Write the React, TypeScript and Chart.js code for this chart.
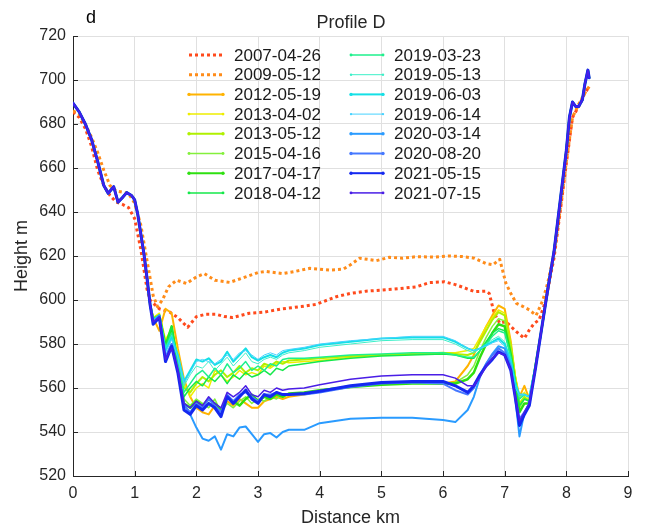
import React, { useEffect, useRef } from "react";
import { Chart, registerables } from "chart.js";

Chart.register(...registerables);

const FONT = '"Liberation Sans", Arial, Helvetica, sans-serif';
const INK = "#262626";
const GRID = "#e0e0e0";

// ---------- labels & ticks ----------
const TITLE = "Profile D";
const PANEL = "d";
const X_TITLE = "Distance km";
const Y_TITLE = "Height m";
const X_TICKS = [0, 1, 2, 3, 4, 5, 6, 7, 8, 9];
const Y_TICKS = [520, 540, 560, 580, 600, 620, 640, 660, 680, 700, 720];

const SERIES_NAMES = [
  "2007-04-26", "2009-05-12", "2012-05-19", "2013-04-02",
  "2013-05-12", "2015-04-16", "2017-04-17", "2018-04-12",
  "2019-03-23", "2019-05-13", "2019-06-03", "2019-06-14",
  "2020-03-14", "2020-08-20", "2021-05-15", "2021-07-15",
];
const SERIES_COLORS = [
  "#FF4A1C", "#FF8C1A", "#FFB300", "#EEEE00",
  "#B0F000", "#84F03C", "#2EE010", "#14E84A",
  "#1EF08C", "#3CF0C8", "#14E0E6", "#46D2FF",
  "#2A9BFF", "#4678FF", "#1428F0", "#4A1EE6",
];
const SERIES_WIDTHS = [3, 3, 2, 1.5, 2, 1.5, 2.5, 1.5, 1.5, 1, 2, 1, 2, 2, 3, 1.5];
const SERIES_DOTTED = [true, true, false, false, false, false, false, false, false, false, false, false, false, false, false, false];

// ---------- dotted profiles (own x) ----------
const X_2007 = [0, 0.1, 0.2, 0.3, 0.4, 0.5, 0.6, 0.7, 0.8, 0.9, 1.0, 1.1, 1.2, 1.25, 1.3, 1.4, 1.57, 1.7, 1.86, 2.0, 2.15, 2.32, 2.45, 2.59, 2.86, 3.1, 3.4, 3.7, 3.94, 4.27, 4.5, 4.75, 5.0, 5.3, 5.57, 5.78, 6.02, 6.2, 6.35, 6.51, 6.7, 6.75, 6.83, 6.92, 7.02, 7.1, 7.19, 7.32, 7.4, 7.48, 7.56, 7.67, 7.75, 7.8, 7.9, 8.0, 8.1, 8.2, 8.3, 8.37];
const Y_2007 = [685.5, 683, 678, 670, 659, 652, 647.5, 644.5, 643.5, 642, 637, 623, 605, 600, 598.5, 596, 594.5, 592, 587.6, 592.4, 593.5, 593.5, 592.5, 592, 594, 594.5, 596, 597, 598, 601.5, 603, 604, 604.5, 605.2, 606, 607.9, 608.3, 607, 605.5, 603.8, 604, 603, 594, 589.5, 590.2, 588, 585.6, 582.6, 586.4, 589.4, 591, 600, 612, 619, 640, 662, 683, 688, 694, 697];

const X_2009 = [0, 0.1, 0.2, 0.3, 0.4, 0.5, 0.6, 0.7, 0.8, 0.9, 1.0, 1.1, 1.2, 1.3, 1.37, 1.45, 1.55, 1.68, 1.84, 2.0, 2.13, 2.3, 2.54, 2.8, 3.0, 3.13, 3.4, 3.6, 3.84, 4.16, 4.38, 4.5, 4.65, 4.92, 5.13, 5.35, 5.57, 5.85, 6.1, 6.3, 6.51, 6.7, 6.81, 6.92, 7.02, 7.1, 7.19, 7.3, 7.4, 7.51, 7.62, 7.7, 7.8, 7.9, 8.0, 8.1, 8.2, 8.3, 8.37];
const Y_2009 = [686, 684.5, 680, 674, 667, 659, 652, 649.5, 649, 648.5, 644, 634, 618, 602, 597, 600, 606, 609, 607.5, 610.5, 612, 609, 608, 610.5, 612.5, 613, 612, 613, 614.4, 613.6, 614, 616, 619, 617.9, 619.4, 619, 619.7, 619.5, 620, 619.8, 619, 616.5, 616, 618.5, 607.6, 603, 598.5, 597, 595.5, 593, 600, 608, 621, 641, 663, 683, 689, 694, 697];

// ---------- shared banks for solid profiles ----------
const LEFT_BANK_X = [0, 0.1, 0.2, 0.3, 0.4, 0.5, 0.57, 0.66, 0.73, 0.8, 0.87, 0.95, 1.0, 1.05, 1.1, 1.15, 1.2, 1.25];
const LEFT_BANK_Y = [689.5, 685.5, 680, 673, 663, 652, 648.5, 651.5, 644.5, 646.5, 648.8, 647.5, 645.5, 639, 630, 621, 610, 598];
const RIGHT_BANK_X = [7.6, 7.7, 7.8, 7.9, 8.0, 8.05, 8.1, 8.15, 8.2, 8.26, 8.3, 8.35, 8.37];
const RIGHT_BANK_Y = [587, 605, 622, 645, 668, 683, 690, 688, 688, 691, 698, 704.5, 701];

// ---------- valley floor, solid profiles ----------
const FLOOR_X = [1.3, 1.4, 1.5, 1.6, 1.7, 1.8, 1.9, 2.0, 2.1, 2.2, 2.3, 2.4, 2.5, 2.6, 2.7, 2.8, 2.9, 3.0, 3.1, 3.2, 3.3, 3.4, 3.5, 3.75, 4.0, 4.5, 5.0, 5.5, 6.0, 6.2, 6.4, 6.5, 6.6, 6.7, 6.8, 6.9, 7.0, 7.1, 7.17, 7.24, 7.32, 7.4, 7.5];
const Y_2012_05_19 = [592, 586, 596, 594, 578, 564, 556, 551, 549, 548, 552, 550, 554, 552, 555, 553, 551, 551, 554, 555, 556, 555, 556, 557, 558.5, 560.5, 562, 562.5, 562, 563, 570, 575, 582, 588, 593, 597.5, 596, 581, 565, 556, 561, 555, 570];
const Y_2013_04_02 = [592, 594, 582, 587, 576, 562, 556, 560, 562, 560, 568, 566, 563, 565, 568, 566, 567, 566, 570, 569, 571, 572, 571.5, 572, 572.5, 574, 575, 575.5, 576, 576, 577, 578, 583, 588, 592, 595.5, 594, 580, 566, 555, 558, 555, 570];
const Y_2013_05_12 = [592, 593, 580, 586, 574, 560, 558, 562, 565, 563, 566, 568, 565, 567, 570, 567, 569, 568, 571, 570, 572, 571, 572.5, 573, 573.5, 574.5, 575, 575.5, 576, 575.5, 575, 576, 581, 586, 591, 594.5, 593, 579, 565, 553, 556, 554, 570];
const Y_2015_04_16 = [591, 592, 580, 587, 571, 555, 552, 555, 553, 551, 555, 549, 553, 551, 554, 556, 553, 555, 554, 556, 555, 557, 557, 558, 559, 561, 562, 562.5, 562, 562.5, 566, 570, 577, 583, 588, 591.5, 590.5, 577, 563, 551, 555, 554, 570];
const Y_2017_04_17 = [591, 593, 579, 588, 570, 553, 551, 554, 552, 555, 553, 550, 556, 554, 552, 555, 557, 554, 556, 555, 557, 556, 557.5, 558, 559, 560.5, 561.5, 562, 562, 562, 564, 567, 574, 580, 585, 589, 588, 575, 562, 549, 553, 553, 570];
const Y_2018_04_12 = [591, 593, 579, 588, 572, 556, 560, 563, 561, 565, 563, 566, 562, 566, 564, 567, 565, 566, 568, 566, 569, 568, 570, 571, 572, 573.5, 574.5, 575, 575.5, 575, 573.5, 573.5, 577, 581, 585, 587, 586, 575, 563, 552, 555, 554, 570];
const Y_2019_03_23 = [591, 593, 578, 585, 573, 558, 562, 566, 568, 565, 569, 566, 571, 567, 569, 572, 568, 570, 568, 571, 570, 573, 573.5, 573.5, 574, 575, 575.5, 576, 576, 575, 574, 574, 577, 580, 583.5, 586, 585, 574, 563, 555, 557, 556, 570];
const Y_2019_05_13 = [591, 593, 578, 584, 574, 561, 566, 570, 569, 572, 568, 571, 574, 570, 573, 576, 572, 571, 573, 574, 573, 575, 576, 577, 578.5, 580, 581.5, 582, 582, 580, 577, 576, 578, 580, 582, 583.5, 581, 573, 562, 556, 557, 556, 570];
const Y_2019_06_03 = [591, 593, 577, 583, 575, 563, 568, 573, 572, 573.5, 570.5, 572, 576.5, 572, 575, 578, 574, 572.5, 574, 575, 574, 576, 577, 578, 579.5, 581, 582.5, 583, 583, 581, 578, 577, 578, 579.5, 581, 582.5, 580, 572, 562, 557, 557, 556, 570];
const Y_2019_06_14 = [590, 592, 576, 582, 574, 562, 567, 572, 573, 572, 571, 573, 575, 573, 576, 577, 575, 573, 575, 576, 575, 577, 577.5, 578.5, 580, 581.5, 582.5, 583.5, 583.5, 581.5, 578, 577, 578, 579, 580.5, 581.5, 579, 571, 560, 557, 557, 556, 570];
const Y_2020_03_14 = [590, 592, 574, 580, 568, 553, 548, 542, 537, 536, 538, 532, 539, 538, 542, 542.5, 539, 535.5, 539, 539.5, 537.5, 540, 541, 541, 544, 546, 546.5, 546.5, 545.5, 544.5, 550, 556, 565, 571, 575.5, 579, 578, 570, 556, 538, 549, 553, 569];
const Y_2020_08_20 = [590, 593, 574, 580, 569, 552, 549, 553, 551, 555, 552, 549, 557, 554, 557, 558, 556, 554, 557, 557, 558, 557, 557, 557, 558, 560.5, 562, 562.5, 562, 559, 557, 560, 566, 571, 575, 578, 576, 569, 557, 546, 549, 553, 569];
const Y_2021_05_15 = [589, 592, 572, 579, 567, 550, 548, 552, 550, 553, 551, 547, 556, 553, 556, 559, 555, 553, 557, 556, 558, 557, 557, 557.5, 558.5, 561, 562.5, 563, 563, 561, 558, 561, 566, 570, 573, 576.5, 575, 568, 556, 543, 548, 552, 569];
const Y_2021_07_15 = [590, 592, 573, 578, 568, 553, 551, 554, 552, 556, 553, 551, 558, 556, 558, 561, 557, 556, 559, 558, 560, 559, 559.5, 560, 561.5, 564, 565.5, 566, 566, 564.5, 561, 561, 565, 570, 573.5, 576, 575, 568, 556, 545, 549, 553, 569];

const FLOOR_SERIES = [
  Y_2012_05_19, Y_2013_04_02, Y_2013_05_12, Y_2015_04_16, Y_2017_04_17,
  Y_2018_04_12, Y_2019_03_23, Y_2019_05_13, Y_2019_06_03, Y_2019_06_14,
  Y_2020_03_14, Y_2020_08_20, Y_2021_05_15, Y_2021_07_15,
];

function zipXY(xs: number[], ys: number[]) {
  return xs.map((x, i) => ({ x, y: ys[i] }));
}

function buildSeriesData(): { x: number; y: number }[][] {
  const out: { x: number; y: number }[][] = [];
  out.push(zipXY(X_2007, Y_2007));
  out.push(zipXY(X_2009, Y_2009));
  for (const floor of FLOOR_SERIES) {
    out.push([
      ...zipXY(LEFT_BANK_X, LEFT_BANK_Y),
      ...zipXY(FLOOR_X, floor),
      ...zipXY(RIGHT_BANK_X, RIGHT_BANK_Y),
    ]);
  }
  return out;
}

const overlayPlugin = {
  id: "overlay",
  afterDraw(chart: any) {
    const { ctx, chartArea, scales } = chart;
    const { left, right, top, bottom } = chartArea;
    ctx.save();
    // inward tick marks
    ctx.strokeStyle = INK;
    ctx.lineWidth = 1;
    ctx.beginPath();
    for (const v of X_TICKS) {
      const px = Math.round(scales.x.getPixelForValue(v)) + 0.5;
      ctx.moveTo(px, bottom);
      ctx.lineTo(px, bottom - 5);
    }
    for (const v of Y_TICKS) {
      const py = Math.round(scales.y.getPixelForValue(v)) + 0.5;
      ctx.moveTo(left, py);
      ctx.lineTo(left + 5, py);
    }
    ctx.stroke();

    // titles
    ctx.fillStyle = INK;
    ctx.textBaseline = "middle";
    ctx.textAlign = "center";
    ctx.font = `18px ${FONT}`;
    ctx.fillText(TITLE, 351, 23);
    ctx.fillStyle = "#000";
    ctx.fillText(PANEL, 91, 18);
    ctx.fillStyle = INK;
    ctx.fillText(X_TITLE, (left + right) / 2, 518);
    ctx.save();
    ctx.translate(22, (top + bottom) / 2);
    ctx.rotate(-Math.PI / 2);
    ctx.fillText(Y_TITLE, 0, 0);
    ctx.restore();

    // legend (two columns, transparent)
    ctx.font = `17px ${FONT}`;
    ctx.textAlign = "left";
    const cols = [
      { lx0: 189, lx1: 223, tx: 234 },
      { lx0: 351, lx1: 383, tx: 394 },
    ];
    const rows = 8;
    SERIES_NAMES.forEach((name, i) => {
      const c = cols[Math.floor(i / rows)];
      const y = 55 + (i % rows) * 19.7;
      const w = SERIES_DOTTED[i] ? SERIES_WIDTHS[i] : Math.min(SERIES_WIDTHS[i], 2);
      ctx.save();
      ctx.strokeStyle = SERIES_COLORS[i];
      ctx.lineWidth = w;
      if (SERIES_DOTTED[i]) {
        ctx.setLineDash([3, 3]);
        ctx.lineCap = "butt";
      }
      ctx.beginPath();
      ctx.moveTo(c.lx0, y);
      ctx.lineTo(c.lx1, y);
      ctx.stroke();
      if (!SERIES_DOTTED[i]) {
        ctx.fillStyle = SERIES_COLORS[i];
        const r = w * 0.5 + 0.7;
        ctx.beginPath();
        ctx.arc(c.lx0, y, r, 0, Math.PI * 2);
        ctx.fill();
        ctx.beginPath();
        ctx.arc(c.lx1, y, r, 0, Math.PI * 2);
        ctx.fill();
      }
      ctx.restore();
      ctx.fillStyle = "#1a1a1a";
      ctx.fillText(name, c.tx, y + 1);
    });
    ctx.restore();
  },
};

export default function App() {
  const canvasRef = useRef<HTMLCanvasElement | null>(null);

  useEffect(() => {
    document.body.style.margin = "0";
    const canvas = canvasRef.current;
    if (!canvas) return;
    const data = buildSeriesData();
    const n = SERIES_NAMES.length;
    const datasets = SERIES_NAMES.map((name, i) => ({
      label: name,
      data: data[i],
      borderColor: SERIES_COLORS[i],
      backgroundColor: SERIES_COLORS[i],
      borderWidth: SERIES_WIDTHS[i],
      borderDash: SERIES_DOTTED[i] ? [3, 3] : [],
      borderCapStyle: SERIES_DOTTED[i] ? "butt" : "round",
      borderJoinStyle: "round",
      pointRadius: 0,
      tension: 0,
      fill: false,
      order: n - i,
    }));

    const chart = new Chart(canvas, {
      type: "line",
      data: { datasets: datasets as any },
      plugins: [overlayPlugin],
      options: {
        responsive: false,
        animation: false,
        devicePixelRatio: 1,
        layout: { padding: { top: 36, right: 22, left: 0, bottom: 0 } },
        plugins: {
          legend: { display: false },
          title: { display: false },
          tooltip: { enabled: false },
        },
        scales: {
          x: {
            type: "linear",
            min: 0,
            max: 9,
            afterFit: (s: any) => { s.height = 55; },
            afterBuildTicks: (s: any) => { s.ticks = X_TICKS.map((v) => ({ value: v })); },
            grid: { color: GRID, drawTicks: false, lineWidth: 1 },
            border: { display: true, color: INK, width: 1 },
            ticks: { color: INK, font: { family: FONT, size: 16 }, padding: 8, maxRotation: 0 },
          },
          y: {
            type: "linear",
            min: 520,
            max: 720,
            afterFit: (s: any) => { s.width = 73; },
            afterBuildTicks: (s: any) => { s.ticks = Y_TICKS.map((v) => ({ value: v })); },
            grid: { color: GRID, drawTicks: false, lineWidth: 1 },
            border: { display: true, color: INK, width: 1 },
            ticks: { color: INK, font: { family: FONT, size: 16 }, padding: 7 },
          },
        },
      },
    } as any);
    return () => chart.destroy();
  }, []);

  return (
    <div style={{ width: 650, height: 531, background: "#fff" }}>
      <canvas ref={canvasRef} width={650} height={531} style={{ display: "block" }} />
    </div>
  );
}
